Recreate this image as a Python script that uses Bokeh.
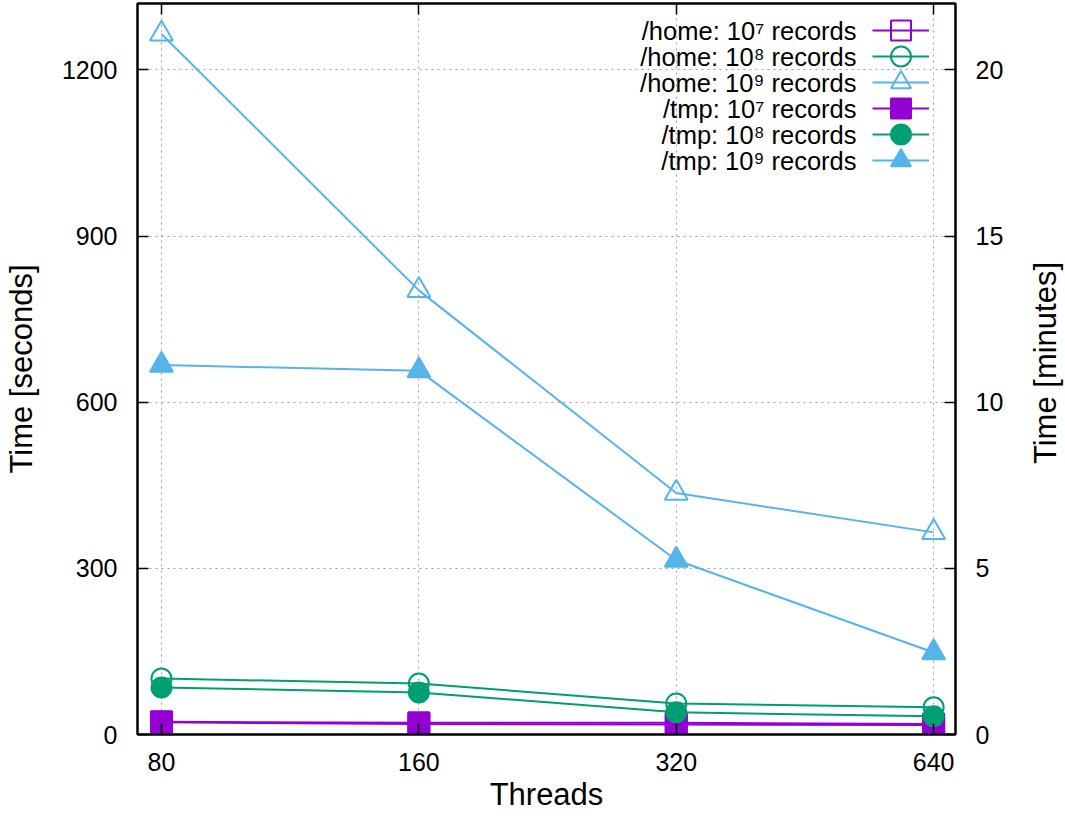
import math
from bokeh.plotting import figure
from bokeh.layouts import row
from bokeh.models import (Range1d, LinearAxis, LogAxis, FixedTicker, Legend,
                          LegendItem, Label, NumeralTickFormatter)
from bokeh.embed import file_html
from bokeh.resources import INLINE

# ---- data ----
threads = [80, 160, 320, 640]
home_1e7 = [23, 21, 21, 19]
home_1e8 = [101, 92, 56, 49]
home_1e9 = [1265, 802, 436, 365]
tmp_1e7 = [22, 19, 18, 17]
tmp_1e8 = [85, 76, 40, 33]
tmp_1e9 = [667, 657, 315, 148]
series_labels = ["/home: 10\u2077 records", "/home: 10\u2078 records", "/home: 10\u2079 records",
                 "/tmp: 10\u2077 records", "/tmp: 10\u2078 records", "/tmp: 10\u2079 records"]
x_ticks = [80, 160, 320, 640]
y_ticks = [0, 300, 600, 900, 1200]
y2_ticks = [0, 5, 10, 15, 20]
x_title = "Threads"
y_title = "Time [seconds]"
y2_title = "Time [minutes]"

FONT = "Liberation Sans"
TITLE_SIZE = "31px"
COLORS = ["#9400d3", "#009e73", "#56b4e9"]
Y_MAX = 1320
FRAME_W, FRAME_H = 824, 731
SIDE_W = 42

p = figure(width=1065 - SIDE_W, height=816, x_axis_type="log",
           x_range=Range1d(75.0, 678.8), y_range=Range1d(0, Y_MAX),
           output_backend="svg", toolbar_location=None,
           min_border_left=131, min_border_right=110 - SIDE_W, min_border_top=3,
           min_border_bottom=82)
p.extra_y_ranges = {"min": Range1d(0, Y_MAX / 60.0)}

p.outline_line_color = "black"
p.outline_line_width = 2
p.background_fill_color = "white"
p.border_fill_color = "white"

# grids
p.xgrid.ticker = FixedTicker(ticks=x_ticks)
p.ygrid.ticker = FixedTicker(ticks=y_ticks)
for g in (p.xgrid, p.ygrid):
    g.grid_line_color = "#a0a0a0"
    g.grid_line_dash = "2 4"
    g.grid_line_width = 1

def style_axis(ax, ticks):
    ax.ticker = FixedTicker(ticks=ticks)
    ax.major_tick_in = 11
    ax.major_tick_out = 0
    ax.minor_tick_in = 0
    ax.minor_tick_out = 0
    ax.axis_line_color = "black"
    ax.axis_line_width = 2
    ax.major_tick_line_color = "black"
    ax.major_tick_line_width = 1.5
    ax.major_label_text_font = FONT
    ax.major_label_text_font_size = "25px"
    ax.major_label_text_color = "black"
    ax.axis_label_text_font = FONT
    ax.axis_label_text_font_size = TITLE_SIZE
    ax.axis_label_text_font_style = "normal"
    ax.axis_label_text_color = "black"

xa = p.xaxis[0]
style_axis(xa, x_ticks)
xa.formatter = NumeralTickFormatter(format="0")
xa.axis_label = x_title
xa.major_label_standoff = 18
xa.axis_label_standoff = 3
xa.major_label_text_line_height = 0.9
xa.axis_label_text_line_height = 0.9

ya = p.yaxis[0]
style_axis(ya, y_ticks)
ya.axis_label = y_title
ya.major_label_standoff = 20
ya.axis_label_standoff = 20

ra = LinearAxis(y_range_name="min")
style_axis(ra, y2_ticks)
ra.major_label_standoff = 20
p.add_layout(ra, "right")

ta = LogAxis()
style_axis(ta, x_ticks)
ta.major_label_text_font_size = "0px"
ta.major_label_standoff = 0
ta.formatter = NumeralTickFormatter(format="0")
ta.major_label_overrides = {t: "" for t in x_ticks}
p.add_layout(ta, "above")

# ---- series ----
series = [home_1e7, home_1e8, home_1e9, tmp_1e7, tmp_1e8, tmp_1e9]
markers = ["square", "circle", "triangle"] * 2
sizes = {"square": 21, "circle": 20, "triangle": 23}
for i, ys in enumerate(series):
    c = COLORS[i % 3]
    m = markers[i]
    filled = i >= 3
    rl = p.line(threads, ys, line_color=c, line_width=2)
    rs = p.scatter(threads, ys, marker=m, size=sizes[m], line_color=c, line_width=2,
                   fill_color=c if filled else None)
    row_center = FRAME_H - 27 - 26 * i
    p.add_layout(Legend(items=[LegendItem(label=" ", renderers=[rl, rs])],
                        location=(735, row_center - 25), glyph_width=57, glyph_height=50,
                        label_width=0, label_standoff=0, label_height=0,
                        label_text_font_size="1px", padding=0, margin=0,
                        background_fill_alpha=0, border_line_alpha=0))
    p.add_layout(Label(x=719, y=row_center, x_units="screen", y_units="screen",
                       text=series_labels[i], text_align="right", text_baseline="middle",
                       text_font=FONT, text_font_size="25.5px", text_color="black"))

# ---- right-hand title strip (minutes axis title, read bottom to top) ----
# (the row aligns this strip's frame with the main frame: bottom at the x axis)
side = figure(width=SIDE_W, height=816, x_range=Range1d(0, 1), y_range=Range1d(0, 1),
              output_backend="svg", toolbar_location=None,
              min_border_left=0, min_border_right=0, min_border_top=0, min_border_bottom=0)
side.axis.visible = False
side.grid.visible = False
side.outline_line_color = None
side.background_fill_color = "white"
side.border_fill_color = "white"
side.add_layout(Label(x=SIDE_W - 20, y=FRAME_H / 2 + 6, x_units="screen", y_units="screen",
                      text=y2_title, angle=math.pi / 2, text_align="center",
                      text_baseline="middle", text_font=FONT, text_font_size=TITLE_SIZE,
                      text_color="black"))

layout = row(p, side, spacing=0)
open("out.html", "w").write(file_html(layout, INLINE))
